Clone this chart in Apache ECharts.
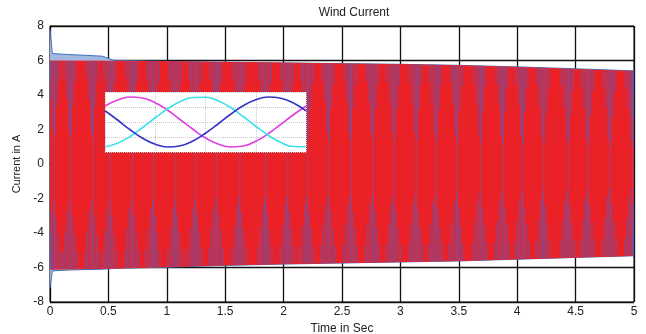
<!DOCTYPE html>
<html>
<head>
<meta charset="utf-8">
<script src="https://cdn.jsdelivr.net/npm/echarts@6/dist/echarts.min.js"></script>
<style>
  html, body { margin: 0; padding: 0; background: #fff; }
  #main { width: 646px; height: 334px; }
</style>
</head>
<body>
<div id="main"></div>
<script>
// envelope of the red phase current
const envT = [0, 0.5, 1, 1.5, 2, 2.5, 3, 3.5, 4, 4.5, 5];
const redUpper = [5.97, 5.96, 5.93, 5.89, 5.85, 5.80, 5.76, 5.70, 5.60, 5.48, 5.36];
const redLower = [-6.1, -6.05, -5.95, -5.85, -5.78, -5.72, -5.66, -5.6, -5.5, -5.4, -5.3];

// blue phase edge, with the start-up spike
const blueT = [0, 0.02, 0.15, 0.3, 0.45, 0.55, 1, 1.5, 2, 2.5, 3, 3.5, 4, 4.5, 5];
const blueUpper = [7.8, 6.4, 6.35, 6.3, 6.25, 6.0, 5.95, 5.9, 5.86, 5.82, 5.78, 5.72, 5.63, 5.52, 5.4];
const blueLower = [-7.2, -6.2, -6.15, -6.12, -6.1, -6.05, -5.98, -5.88, -5.8, -5.74, -5.68, -5.62, -5.52, -5.42, -5.32];

// times where the blue streak groups show up
const clusterT = [0.03, 0.17, 0.36, 0.51, 0.70, 0.88, 1.07, 1.24, 1.42, 1.62, 1.84, 2.03, 2.20, 2.38,
  2.57, 2.76, 2.94, 3.13, 3.30, 3.48, 3.68, 3.87, 4.04, 4.22, 4.43, 4.60, 4.79, 4.98];
// one streak group: offset in s and how far the streak reaches in from the edge
const bottomOffset = [-0.06, -0.04, -0.02, 0, 0.02, 0.04, 0.06];
const bottomReach = [1.0, 2.2, 3.4, 3.9, 3.0, 2.0, 1.0];
const topOffset = [-0.05, -0.03, -0.01, 0.01, 0.03, 0.05];
const topReach = [1.0, 2.2, 4.0, 4.4, 2.6, 1.2];

// inset: one cycle of the three phases
const insetX = [0, 0.25, 0.5, 0.75, 1, 1.25, 1.5, 1.75, 2, 2.25, 2.5, 2.75, 3, 3.25, 3.5, 3.75, 4];
const insetMagenta = [0.64, 0.88, 1.0, 0.96, 0.77, 0.47, 0.09, -0.29, -0.64, -0.88, -1.0, -0.96, -0.77, -0.47, -0.09, 0.29, 0.64];
const insetCyan = [-0.99, -0.85, -0.58, -0.22, 0.17, 0.53, 0.82, 0.98, 0.99, 0.85, 0.58, 0.22, -0.17, -0.53, -0.82, -0.98, -0.99];
const insetBlue = [0.45, 0.08, -0.31, -0.65, -0.89, -1.0, -0.95, -0.76, -0.45, -0.08, 0.31, 0.65, 0.89, 1.0, 0.95, 0.76, 0.45];

function envAt(arrT, arrV, t) {
  for (let i = 0; i < arrT.length - 1; i++) {
    if (t <= arrT[i + 1]) {
      const f = (t - arrT[i]) / (arrT[i + 1] - arrT[i]);
      return arrV[i] + f * (arrV[i + 1] - arrV[i]);
    }
  }
  return arrV[arrV.length - 1];
}

const streaks = [];
const fullStreaks = [];
clusterT.forEach(c => {
  bottomOffset.forEach((o, i) => {
    const t = Math.min(4.995, Math.max(0.005, c + o));
    const lo = envAt(envT, redLower, t);
    streaks.push([t, lo, lo + bottomReach[i]]);
  });
  topOffset.forEach((o, i) => {
    const t = Math.min(4.995, Math.max(0.005, c + o));
    const hi = envAt(envT, redUpper, t);
    streaks.push([t, hi, hi - topReach[i]]);
  });
  const t = Math.min(4.995, c + 0.006);
  fullStreaks.push([t, envAt(envT, redLower, t), envAt(envT, redUpper, t)]);
});

const pair = (xs, ys) => xs.map((x, i) => [x, ys[i]]);

function streakItem(width, color) {
  return function (params, api) {
    const a = api.coord([api.value(0), api.value(1)]);
    const b = api.coord([api.value(0), api.value(2)]);
    return {
      type: 'line',
      shape: { x1: a[0], y1: a[1], x2: b[0], y2: b[1] },
      style: { stroke: color, lineWidth: width }
    };
  };
}

const myChart = echarts.init(document.getElementById('main'));
const txt = '#222';
myChart.setOption({
  animation: false,
  title: {
    text: 'Wind Current', left: 349, top: 2, textAlign: 'center',
    textStyle: { fontFamily: 'Liberation Sans', fontSize: 12, fontWeight: 'normal', color: txt }
  },
  grid: [
    { left: 50, right: 12, top: 26, bottom: 32, show: true, borderColor: '#000', borderWidth: 1, outerBoundsMode: 'none' },
    { left: 105, top: 92, width: 201, height: 60, show: true, backgroundColor: '#fff', borderWidth: 0, z: 20, outerBoundsMode: 'none' }
  ],
  xAxis: [
    {
      type: 'value', min: 0, max: 5, interval: 0.5, gridIndex: 0,
      name: 'Time in Sec', nameLocation: 'middle', nameGap: 20,
      nameTextStyle: { fontFamily: 'Liberation Sans', fontSize: 12, color: txt },
      axisLine: { lineStyle: { color: '#000' } },
      axisTick: { inside: true, length: 3, lineStyle: { color: '#000' } },
      axisLabel: { fontFamily: 'Liberation Sans', fontSize: 12, color: txt, margin: 4 },
      splitLine: { show: true, lineStyle: { color: '#111', width: 1.3 } }
    },
    {
      type: 'value', min: 0, max: 4, interval: 1, gridIndex: 1, z: 21,
      axisLine: { show: false }, axisTick: { show: false }, axisLabel: { show: false },
      splitLine: { show: true, lineStyle: { color: '#c8c8c8', type: 'dotted' } }
    }
  ],
  yAxis: [
    {
      type: 'value', min: -8, max: 8, interval: 2, gridIndex: 0,
      name: 'Current in A', nameLocation: 'middle', nameGap: 28,
      nameTextStyle: { fontFamily: 'Liberation Sans', fontSize: 11, color: txt },
      axisLine: { show: true, lineStyle: { color: '#000' } },
      axisTick: { show: true, inside: true, length: 3, lineStyle: { color: '#000' } },
      axisLabel: { fontFamily: 'Liberation Sans', fontSize: 12, color: txt, margin: 6 },
      splitLine: { show: true, lineStyle: { color: '#111', width: 1.3 } }
    },
    {
      type: 'value', min: -1.2, max: 1.2, interval: 0.6, gridIndex: 1, z: 21,
      axisLine: { show: false }, axisTick: { show: false }, axisLabel: { show: false },
      splitLine: { show: true, lineStyle: { color: '#c8c8c8', type: 'dotted' } }
    }
  ],
  series: [
    {
      type: 'line', name: 'blueUp', data: pair(blueT, blueUpper), symbol: 'none', z: 2,
      lineStyle: { color: '#3a6fbf', width: 1 },
      areaStyle: { color: '#a3b8de', opacity: 1 }
    },
    {
      type: 'line', name: 'blueLo', data: pair(blueT, blueLower), symbol: 'none', z: 2,
      lineStyle: { color: '#3a6fbf', width: 1 },
      areaStyle: { color: '#a3b8de', opacity: 1 }
    },
    {
      type: 'line', name: 'redUp', data: pair(envT, redUpper), symbol: 'none', z: 3,
      lineStyle: { color: '#ea2228', width: 1 },
      areaStyle: { color: '#ea2228', opacity: 1 }
    },
    {
      type: 'line', name: 'redLo', data: pair(envT, redLower), symbol: 'none', z: 3,
      lineStyle: { color: '#ea2228', width: 1 },
      areaStyle: { color: '#ea2228', opacity: 1 }
    },
    {
      type: 'custom', name: 'full', data: fullStreaks, z: 4,
      encode: { x: 0, y: [1, 2] },
      renderItem: streakItem(1.5, 'rgba(90,100,190,0.38)')
    },
    {
      type: 'custom', name: 'streaks', data: streaks, z: 4,
      encode: { x: 0, y: [1, 2] },
      renderItem: streakItem(1.3, 'rgba(80,95,195,0.55)')
    },
    {
      type: 'line', data: pair(insetX, insetMagenta), xAxisIndex: 1, yAxisIndex: 1, smooth: true,
      symbol: 'none', z: 25, lineStyle: { color: '#e040e0', width: 1.6 }
    },
    {
      type: 'line', data: pair(insetX, insetCyan), xAxisIndex: 1, yAxisIndex: 1, smooth: true,
      symbol: 'none', z: 25, lineStyle: { color: '#40e0e6', width: 1.6 }
    },
    {
      type: 'line', data: pair(insetX, insetBlue), xAxisIndex: 1, yAxisIndex: 1, smooth: true,
      symbol: 'none', z: 25, lineStyle: { color: '#3535c8', width: 1.6 }
    }
  ]
});
</script>
</body>
</html>
